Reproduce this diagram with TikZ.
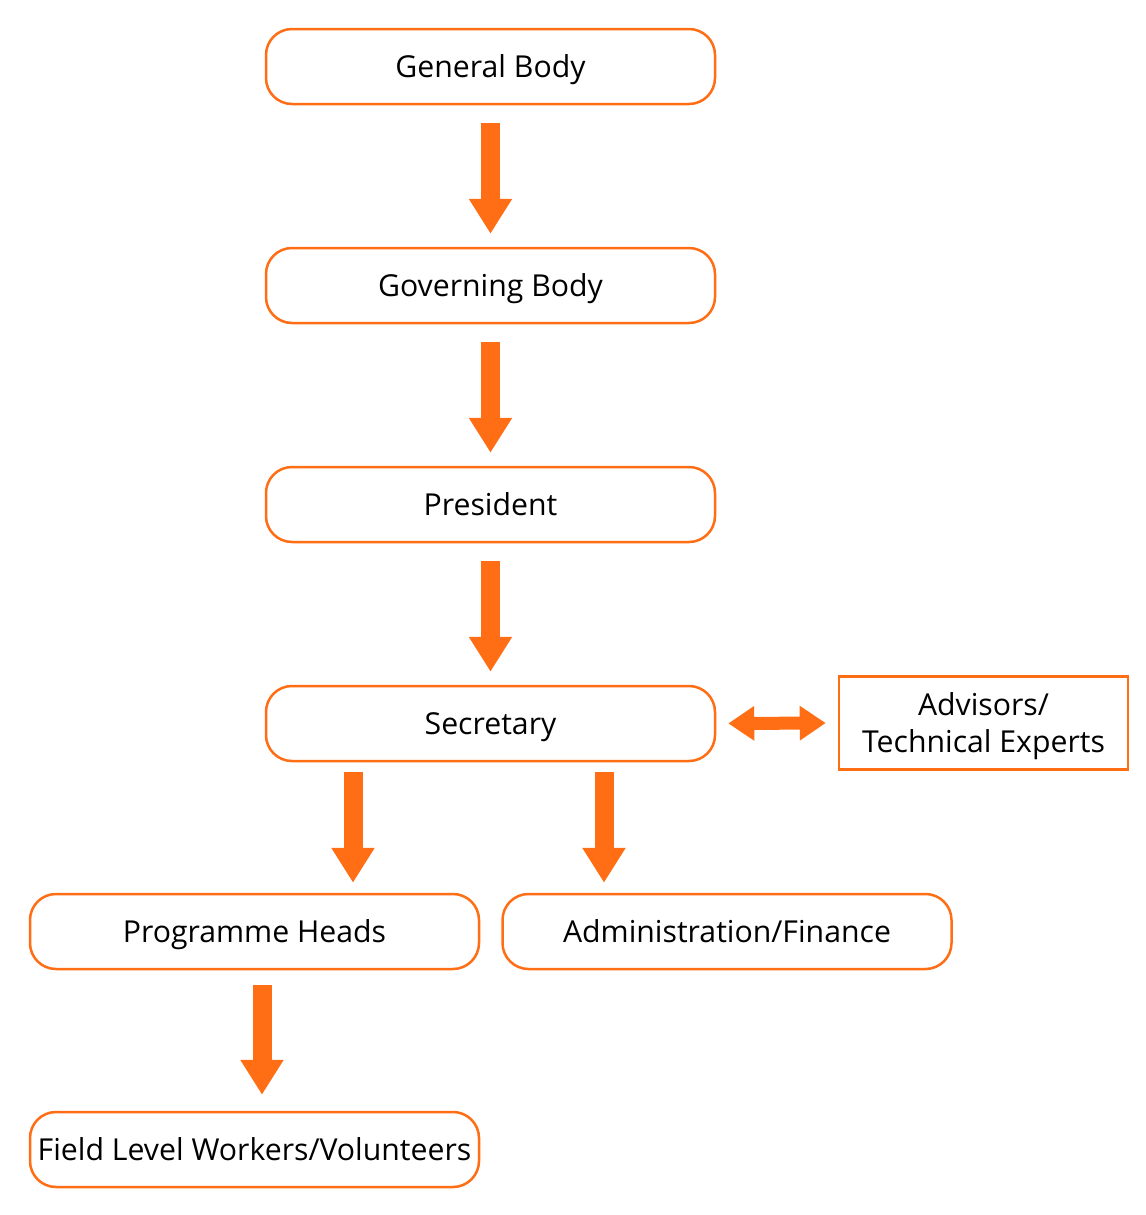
\documentclass[tikz,border=0pt]{standalone}
\usepackage{fontspec}
\setmainfont{Open Sans}
\usetikzlibrary{arrows.meta}
\usetikzlibrary{positioning}

\definecolor{orgorange}{RGB}{255,110,20}

\tikzset{
  rbox/.style={draw=orgorange,line width=0.05cm,rounded corners=0.52cm,fill=white,
    minimum width=8.98cm,minimum height=1.5cm,align=center,inner sep=0pt,
    text height=12.3pt,text depth=0pt,
    font=\fontsize{17.2pt}{20.7pt}\selectfont},
  sbox/.style={rbox,rounded corners=0pt,minimum width=5.78cm,minimum height=1.86cm,
    text height=33pt},
  downarrow/.style={draw=orgorange,line width=0.38cm,line cap=butt,
    -{Triangle[width=0.82cm,length=0.7cm]}},
  bothways/.style={draw=orgorange,line width=0.26cm,line cap=butt,
    {Triangle[width=0.66cm,length=0.52cm]}-{Triangle[width=0.66cm,length=0.52cm]}}
}

\begin{document}
\begin{tikzpicture}
\useasboundingbox (0,0) rectangle (22.92,-24.3);

\node[rbox] (gen) at (9.81,-1.33) {General Body};
\node[rbox] (gov) at (9.81,-5.71) {Governing Body};
\node[rbox] (pres) at (9.81,-10.09) {President};
\node[rbox] (sec) at (9.81,-14.47) {Secretary};
\node[sbox] (adv) at (19.67,-14.46) {Advisors/\\Technical Experts};
\node[rbox] (prog) at (5.09,-18.63) {Programme Heads};
\node[rbox] (adm) at (14.54,-18.63) {Administration/Finance};
\node[rbox] (field) at (5.09,-22.99) {Field Level Workers/Volunteers};

\draw[downarrow,shorten <=0.36cm,shorten >=0.26cm] (gen.south) -- (gov.north);
\draw[downarrow,shorten <=0.36cm,shorten >=0.26cm] (gov.south) -- (pres.north);
\draw[downarrow,shorten <=0.36cm,shorten >=0.26cm] (pres.south) -- (sec.north);
\draw[bothways,shorten <=0.24cm,shorten >=0.24cm] (sec.east) -- (adv.west);

\draw[downarrow,shorten <=0.2cm,shorten >=0.2cm] ([xshift=-2.75cm]sec.south) -- ([xshift=-2.75cm]sec.south |- prog.north);
\draw[downarrow,shorten <=0.2cm,shorten >=0.2cm] ([xshift=2.27cm]sec.south) -- ([xshift=2.27cm]sec.south |- adm.north);
\draw[downarrow,shorten <=0.3cm,shorten >=0.32cm] ([xshift=0.15cm]prog.south) -- ([xshift=0.15cm]prog.south |- field.north);

\end{tikzpicture}
\end{document}
